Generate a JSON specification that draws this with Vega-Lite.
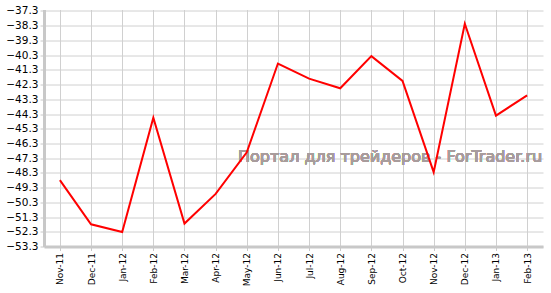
{
  "$schema": "https://vega.github.io/schema/vega-lite/v6.json",
  "width": 499,
  "height": 237,
  "autosize": {"type": "none"},
  "padding": {"left": 44, "top": 9.5, "right": 8, "bottom": 46.5},
  "background": "white",
  "config": {
    "view": {"stroke": null},
    "font": "DejaVu Sans",
    "axis": {"labelOverlap": false}
  },
  "data": {
    "values": [
      {"month": "Nov-11", "value": -48.79},
      {"month": "Dec-11", "value": -51.79},
      {"month": "Jan-12", "value": -52.32},
      {"month": "Feb-12", "value": -44.55},
      {"month": "Mar-12", "value": -51.74},
      {"month": "Apr-12", "value": -49.73},
      {"month": "May-12", "value": -46.9},
      {"month": "Jun-12", "value": -40.87},
      {"month": "Jul-12", "value": -41.9},
      {"month": "Aug-12", "value": -42.55},
      {"month": "Sep-12", "value": -40.37},
      {"month": "Oct-12", "value": -42.05},
      {"month": "Nov-12", "value": -48.25},
      {"month": "Dec-12", "value": -38.17},
      {"month": "Jan-13", "value": -44.41},
      {"month": "Feb-13", "value": -43.03}
    ]
  },
  "layer": [
    {
      "mark": {"type": "text", "align": "right", "baseline": "middle", "dx": 15, "fontSize": 16, "color": "#a89c9c", "opacity": 0.9, "font": "DejaVu Sans"},
      "encoding": {
        "x": {
          "datum": "Feb-13", "type": "ordinal",
          "scale": {"type": "point", "padding": 0.51, "domain": ["Nov-11", "Dec-11", "Jan-12", "Feb-12", "Mar-12", "Apr-12", "May-12", "Jun-12", "Jul-12", "Aug-12", "Sep-12", "Oct-12", "Nov-12", "Dec-12", "Jan-13", "Feb-13"]},
          "axis": {
            "title": null, "labelAngle": -90, "labelFontSize": 9, "labelColor": "#000000",
            "labelOverlap": false, "labelBound": false,
            "grid": true, "gridColor": "#d0d0d0", "gridWidth": 1,
            "domainColor": "#c8c8c8", "domainWidth": 3,
            "tickColor": "#c8c8c8", "tickSize": 4, "labelPadding": 2
          }
        },
        "y": {
          "datum": -47.25, "type": "quantitative",
          "scale": {"domain": [-53.3, -37.2], "nice": false, "zero": false},
          "axis": {
            "title": null, "values": [-53.3, -52.3, -51.3, -50.3, -49.3, -48.3, -47.3, -46.3, -45.3, -44.3, -43.3, -42.3, -41.3, -40.3, -39.3, -38.3, -37.3],
            "format": ".1f", "labelFontSize": 10.5, "labelColor": "#000000",
            "labelOverlap": false, "labelBound": false, "labelFlush": false,
            "grid": true, "gridColor": "#d0d0d0", "gridWidth": 1,
            "domainColor": "#c8c8c8", "domainWidth": 3,
            "tickColor": "#c8c8c8", "tickSize": 4, "labelPadding": 2
          }
        },
        "text": {"value": "Портал для трейдеров - ForTrader.ru"}
      }
    },
    {
      "mark": {"type": "line", "color": "#ff0000", "strokeWidth": 2},
      "encoding": {
        "x": {
          "field": "month", "type": "ordinal", "sort": null,
          "scale": {"type": "point", "padding": 0.51, "domain": ["Nov-11", "Dec-11", "Jan-12", "Feb-12", "Mar-12", "Apr-12", "May-12", "Jun-12", "Jul-12", "Aug-12", "Sep-12", "Oct-12", "Nov-12", "Dec-12", "Jan-13", "Feb-13"]},
          "axis": {
            "title": null, "labelAngle": -90, "labelFontSize": 9, "labelColor": "#000000",
            "labelOverlap": false, "labelBound": false,
            "grid": true, "gridColor": "#d0d0d0", "gridWidth": 1,
            "domainColor": "#c8c8c8", "domainWidth": 3,
            "tickColor": "#c8c8c8", "tickSize": 4, "labelPadding": 2
          }
        },
        "y": {
          "field": "value", "type": "quantitative",
          "scale": {"domain": [-53.3, -37.2], "nice": false, "zero": false},
          "axis": {
            "title": null, "values": [-53.3, -52.3, -51.3, -50.3, -49.3, -48.3, -47.3, -46.3, -45.3, -44.3, -43.3, -42.3, -41.3, -40.3, -39.3, -38.3, -37.3],
            "format": ".1f", "labelFontSize": 10.5, "labelColor": "#000000",
            "labelOverlap": false, "labelBound": false, "labelFlush": false,
            "grid": true, "gridColor": "#d0d0d0", "gridWidth": 1,
            "domainColor": "#c8c8c8", "domainWidth": 3,
            "tickColor": "#c8c8c8", "tickSize": 4, "labelPadding": 2
          }
        }
      }
    }
  ]
}
